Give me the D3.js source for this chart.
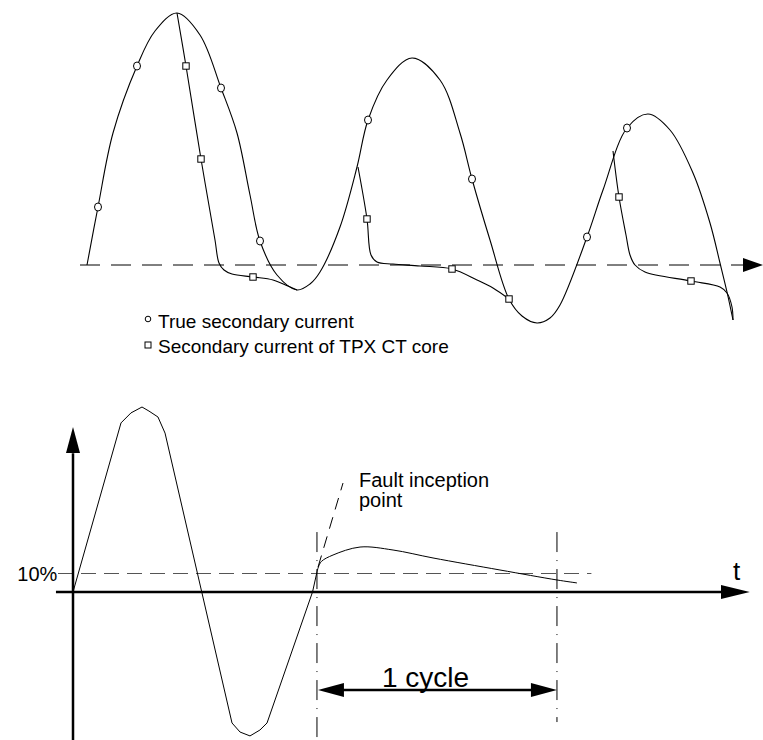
<!DOCTYPE html>
<html><head><meta charset="utf-8">
<script src="https://cdn.jsdelivr.net/npm/d3@7"></script>
<style>
html,body{margin:0;padding:0;background:#fff;}
svg{display:block;font-family:"Liberation Sans",Arial,sans-serif;}
</style></head>
<body>
<svg id="chart" width="763" height="740"></svg>
<script>
// ---------- DATA (top panel: time in ms, current in arbitrary units) ----------
const trueSecondary = [
  [0.7,0],[1.8,2.32],[3.3,5.28],[5.7,7.96],[7.5,9.36],[9.7,10.08],[12.0,9.2],[14.1,7.08],
  [15.7,5.28],[17.0,2.8],[18.0,0.96],[19.7,-0.4],[21.7,-1.0],[23.0,-0.76],[24.0,-0.28],
  [26.0,1.52],[27.7,3.92],[28.8,5.8],[30.7,7.4],[33.2,8.28],[36.0,7.4],[38.0,5.28],
  [39.2,3.44],[41.0,1.0],[42.9,-1.36],[44.2,-2.04],[45.7,-2.32],[47.0,-2.12],[48.0,-1.6],
  [50.7,1.12],[52.3,3.0],[54.7,5.48],[56.8,6.04],[59.0,5.4],[61.3,3.68],[63.0,1.68],
  [64.0,0.08],[64.7,-1.08],[65.3,-2.2]
];
const tpxSegment1 = [[9.7,10.08],[10.6,7.96],[12.1,4.24],[13.5,1.0],[13.9,0.08],[14.4,-0.2],
  [15.2,-0.36],[17.3,-0.48],[19.3,-0.6],[20.8,-0.84],[21.7,-1.0]];
const tpxSegment2 = [[27.8,3.92],[28.7,1.84],[29.1,0.4],[29.7,0.12],[31.3,0.04],[34.0,-0.04],
  [37.2,-0.16],[39.7,-0.6],[41.3,-0.92],[42.9,-1.36]];
const tpxSegment3 = [[53.3,4.56],[53.9,2.72],[54.6,1.2],[55.0,0.4],[55.5,0.0],[56.5,-0.28],
  [61.1,-0.64],[64.0,-0.88],[64.7,-1.12],[65.2,-1.68],[65.3,-2.2]];
const trueMarkers = [[1.8,2.32],[5.7,7.96],[14.1,7.08],[18.0,0.96],[28.8,5.8],[39.2,3.44],[50.7,1.12],[54.7,5.48]];
const tpxMarkers = [[10.6,7.96],[12.1,4.24],[17.3,-0.48],[28.7,1.84],[37.2,-0.16],[42.9,-1.36],[53.9,2.72],[61.1,-0.64]];
const legendLabels = ["True secondary current", "Secondary current of TPX CT core"];

// ---------- DATA (bottom panel: time in ms, current in per unit) ----------
const preFaultWave = [[0,0],[4.0,0.914],[4.83,0.968],[5.75,1.0],[6.33,0.978],[7.08,0.946],[7.67,0.859],
  [13.25,-0.708],[13.92,-0.757],[14.75,-0.778],[15.58,-0.746],[16.17,-0.708],[19.96,0],[20.33,0.108]];
const faultCurve = [[20.33,0.108],[20.45,0.135],[20.7,0.165],[21.67,0.2],[23.92,0.243],[26.67,0.227],[30.0,0.184],
  [35.58,0.119],[40.33,0.065],[42.0,0.049]];
const inceptionTangent = [[20.42,0.135],[22.5,0.589]];
const thresholdLevel = 0.1;          // 10 %
const thresholdLabel = "10%";
const faultInception = 20.33;        // ms
const cycleLength = 20;              // ms
const cycleLabel = "1 cycle";
const faultLabel = ["Fault inception", "point"];
const timeLabel = "t";

// ---------- DRAW ----------
const svg = d3.select("#chart");

const xT = d3.scaleLinear().domain([0, 66.5]).range([80, 745]);
const yT = d3.scaleLinear().domain([0, 10]).range([265, 15]);
const lineT = d3.line().x(d => xT(d[0])).y(d => yT(d[1])).curve(d3.curveCatmullRom.alpha(0.5));

const gTop = svg.append("g");
gTop.append("line").attr("x1", xT(0)).attr("x2", xT(66.3)).attr("y1", yT(0)).attr("y2", yT(0))
  .attr("stroke", "#000").attr("stroke-width", 1).attr("stroke-dasharray", "20,11");
gTop.append("path")
  .attr("d", `M${xT(66.3)},${yT(0)-7}L${xT(68.3)},${yT(0)}L${xT(66.3)},${yT(0)+7}Z`)
  .attr("fill", "#000");

gTop.append("path").attr("d", lineT(trueSecondary)).attr("fill", "none").attr("stroke", "#000").attr("stroke-width", 1.1);
[tpxSegment1, tpxSegment2, tpxSegment3].forEach(seg => {
  gTop.append("path").attr("d", lineT(seg)).attr("fill", "none").attr("stroke", "#000").attr("stroke-width", 1.1);
});
gTop.selectAll("ellipse.tm").data(trueMarkers).join("ellipse").attr("class", "tm")
  .attr("cx", d => xT(d[0])).attr("cy", d => yT(d[1])).attr("rx", 3.5).attr("ry", 4)
  .attr("fill", "#fff").attr("stroke", "#000").attr("stroke-width", 1);
gTop.selectAll("rect.pm").data(tpxMarkers).join("rect").attr("class", "pm")
  .attr("x", d => xT(d[0]) - 3.2).attr("y", d => yT(d[1]) - 3.2).attr("width", 6.4).attr("height", 6.4)
  .attr("fill", "#fff").attr("stroke", "#000").attr("stroke-width", 1);

const leg = svg.append("g");
leg.append("circle").attr("cx", 148).attr("cy", 319).attr("r", 2.8).attr("fill", "none").attr("stroke", "#000").attr("stroke-width", 1);
leg.append("rect").attr("x", 145).attr("y", 342).attr("width", 6).attr("height", 6).attr("fill", "none").attr("stroke", "#000").attr("stroke-width", 1);
leg.append("text").attr("x", 158).attr("y", 328).attr("font-size", 19).text(legendLabels[0]);
leg.append("text").attr("x", 158).attr("y", 353).attr("font-size", 19).text(legendLabels[1]);

const xB = d3.scaleLinear().domain([0, 20]).range([73, 313]);
const yB = d3.scaleLinear().domain([0, 1]).range([592, 407]);
const bot = svg.append("g");

bot.append("line").attr("x1", xB(-1.25)).attr("x2", xB(43.2)).attr("y1", yB(thresholdLevel)).attr("y2", yB(thresholdLevel))
  .attr("stroke", "#555").attr("stroke-width", 1).attr("stroke-dasharray", "15,8");
bot.append("text").attr("x", xB(-1.3)).attr("y", yB(thresholdLevel) + 7).attr("text-anchor", "end")
  .attr("font-size", 20).text(thresholdLabel);

bot.append("line").attr("x1", xB(-1.42)).attr("x2", xB(54.2)).attr("y1", yB(0)).attr("y2", yB(0))
  .attr("stroke", "#000").attr("stroke-width", 2.5);
bot.append("path").attr("d", `M${xB(54)},${yB(0)-7}L${xB(56.4)},${yB(0)}L${xB(54)},${yB(0)+7}Z`).attr("fill", "#000");
bot.append("line").attr("x1", xB(0)).attr("x2", xB(0)).attr("y1", yB(-0.8)).attr("y2", yB(0.75))
  .attr("stroke", "#000").attr("stroke-width", 2.5);
bot.append("path").attr("d", `M${xB(0)-7},${yB(0.751)}L${xB(0)},${yB(0.892)}L${xB(0)+7},${yB(0.751)}Z`).attr("fill", "#000");
bot.append("text").attr("x", xB(55.3)).attr("y", yB(0) - 12).attr("text-anchor", "middle").attr("font-size", 26).text(timeLabel);

bot.append("path").attr("d", d3.line().x(d => xB(d[0])).y(d => yB(d[1]))(preFaultWave))
  .attr("fill", "none").attr("stroke", "#000").attr("stroke-width", 1);
bot.append("path").attr("d", d3.line().x(d => xB(d[0])).y(d => yB(d[1])).curve(d3.curveCatmullRom)(faultCurve))
  .attr("fill", "none").attr("stroke", "#000").attr("stroke-width", 1);
bot.append("line").attr("x1", xB(inceptionTangent[0][0])).attr("y1", yB(inceptionTangent[0][1]))
  .attr("x2", xB(inceptionTangent[1][0])).attr("y2", yB(inceptionTangent[1][1]))
  .attr("stroke", "#000").attr("stroke-width", 1).attr("stroke-dasharray", "12,8");

bot.append("line").attr("x1", xB(faultInception)).attr("x2", xB(faultInception)).attr("y1", yB(0.324)).attr("y2", yB(-0.8))
  .attr("stroke", "#000").attr("stroke-width", 1).attr("stroke-dasharray", "20,8,1,8");
bot.append("line").attr("x1", xB(faultInception + cycleLength)).attr("x2", xB(faultInception + cycleLength))
  .attr("y1", yB(0.324)).attr("y2", yB(-0.703))
  .attr("stroke", "#000").attr("stroke-width", 1).attr("stroke-dasharray", "20,8,1,8");

const ay = yB(-0.53), ax1 = xB(faultInception) + 1, ax2 = xB(faultInception + cycleLength);
bot.append("line").attr("x1", ax1 + 20).attr("x2", ax2 - 20).attr("y1", ay).attr("y2", ay).attr("stroke", "#000").attr("stroke-width", 2.5);
bot.append("path").attr("d", `M${ax1},${ay}L${ax1+26},${ay-7}L${ax1+26},${ay+7}Z`).attr("fill", "#000");
bot.append("path").attr("d", `M${ax2},${ay}L${ax2-26},${ay-7}L${ax2-26},${ay+7}Z`).attr("fill", "#000");
bot.append("text").attr("x", (ax1 + ax2) / 2 - 12).attr("y", ay - 3).attr("text-anchor", "middle").attr("font-size", 28).text(cycleLabel);

bot.append("text").attr("x", 359).attr("y", 487).attr("font-size", 20).text(faultLabel[0]);
bot.append("text").attr("x", 359).attr("y", 507).attr("font-size", 20).text(faultLabel[1]);
</script>
</body></html>
